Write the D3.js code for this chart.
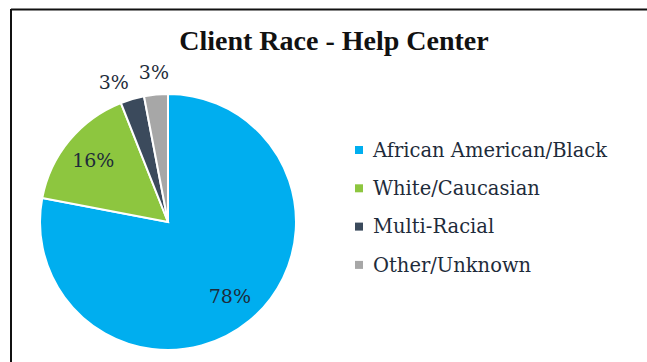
<!DOCTYPE html>
<html>
<head>
<meta charset="utf-8">
<script src="https://cdn.jsdelivr.net/npm/d3@7"></script>
<style>
  body { margin: 0; background: #fff; }
  svg { display: block; }
</style>
</head>
<body>
<svg id="chart" width="647" height="362"></svg>
<script>
// data
var categories = ["African American/Black", "White/Caucasian", "Multi-Racial", "Other/Unknown"];
var values = [78, 16, 3, 3];
var colours = ["#00AEEF", "#8DC63F", "#3B4A5C", "#A7A7A7"];
var labelOutside = [false, false, true, true];
// small angular nudge (degrees) so the two outside labels don't collide
var labelShift = [0, 0, -5, 0];

var svg = d3.select("#chart"),
  width = 647,
  height = 362;

// frame (only top + left visible in the original)
svg.append("line").attr("x1", 11).attr("y1", 9.5).attr("x2", width).attr("y2", 9.5)
  .attr("stroke", "#111").attr("stroke-width", 2);
svg.append("line").attr("x1", 11).attr("y1", 9).attr("x2", 11).attr("y2", height)
  .attr("stroke", "#111").attr("stroke-width", 2);

svg.append("text")
  .attr("x", 334).attr("y", 50)
  .attr("text-anchor", "middle")
  .style("font-family", "'Liberation Serif', serif")
  .style("font-weight", "bold")
  .style("font-size", "28px")
  .style("fill", "#111")
  .text("Client Race - Help Center");

var cx = 168, cy = 222, radius = 128;

var pie = d3.pie().sort(null).value(d => d)(values);
var arc = d3.arc().innerRadius(0).outerRadius(radius);
var inArc = d3.arc().innerRadius(97).outerRadius(97);
var outArc = d3.arc().innerRadius(150).outerRadius(150);

function labelPos(d, i) {
  var s = labelShift[i] * Math.PI / 180;
  var shifted = { startAngle: d.startAngle + s, endAngle: d.endAngle + s };
  return (labelOutside[i] ? outArc : inArc).centroid(shifted);
}

var g = svg.append("g").attr("transform", "translate(" + cx + "," + cy + ")");

g.selectAll("path.slice")
  .data(pie)
  .enter()
  .append("path")
  .attr("class", "slice")
  .attr("d", arc)
  .attr("fill", (d, i) => colours[i])
  .attr("stroke", "#fff")
  .attr("stroke-width", 2);

g.selectAll("text.pct")
  .data(pie)
  .enter()
  .append("text")
  .attr("class", "pct")
  .attr("transform", (d, i) => "translate(" + labelPos(d, i) + ")")
  .attr("text-anchor", "middle")
  .attr("dy", "0.35em")
  .style("font-family", "'DejaVu Serif', serif")
  .style("font-size", "19px")
  .style("fill", "#1E2B3A")
  .text(d => d.value + "%");

// legend
var legend = svg.append("g").attr("transform", "translate(355,150)");
var rows = legend.selectAll("g")
  .data(categories)
  .enter()
  .append("g")
  .attr("transform", (d, i) => "translate(0," + i * 38.3 + ")");

rows.append("rect")
  .attr("x", 0).attr("y", -4)
  .attr("width", 8).attr("height", 8)
  .attr("fill", (d, i) => colours[i]);

rows.append("text")
  .attr("x", 18).attr("dy", "0.35em")
  .style("font-family", "'DejaVu Serif', serif")
  .style("font-size", "19.5px")
  .style("fill", "#1E2B3A")
  .text(d => d);
</script>
</body>
</html>
